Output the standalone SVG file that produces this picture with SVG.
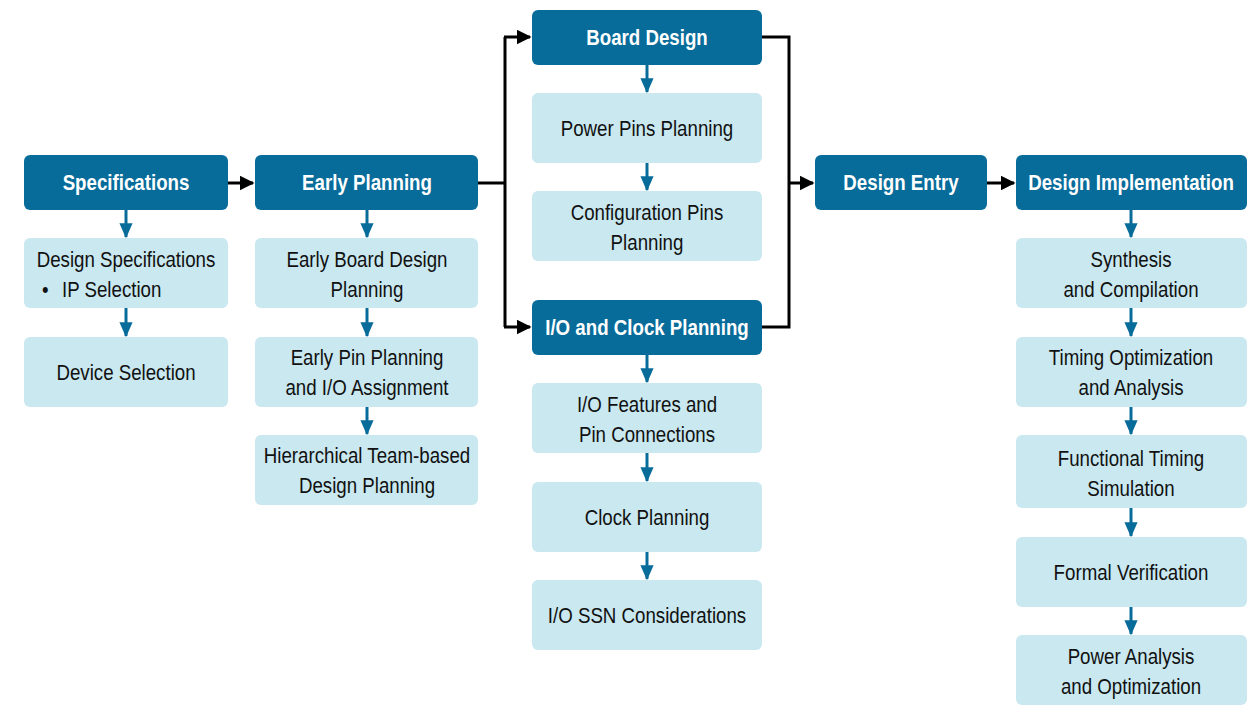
<svg xmlns="http://www.w3.org/2000/svg" width="1252" height="713" viewBox="0 0 1252 713">
<defs>
<style>
.h rect{fill:#086c9a}
.s rect{fill:#c9e8f0}
text{font-family:"Liberation Sans",Arial,sans-serif;font-size:22px;text-anchor:middle}
.h text{fill:#fff;font-weight:bold}
.s text{fill:#111}
.k{stroke:#000;stroke-width:3;fill:none}
.b{stroke:#086c9a;stroke-width:3;fill:none}
</style>
<marker id="ak" markerWidth="5" markerHeight="5" refX="4.5" refY="2.5" orient="auto" markerUnits="strokeWidth" viewBox="0 0 5 5"><path d="M0,0 L5,2.5 L0,5 Z" fill="#000"/></marker>
<marker id="ab" markerWidth="5" markerHeight="4.4" refX="4.6" refY="2.2" orient="auto" markerUnits="strokeWidth" viewBox="0 0 5 4.4"><path d="M0,0 L5,2.2 L0,4.4 Z" fill="#086c9a"/></marker>
</defs>
<g id="connectors">
<path class="k" d="M228,183 H253" marker-end="url(#ak)"/>
<path class="k" d="M478,183 H505 M505,37 V327" />
<path class="k" d="M504,37 H530" marker-end="url(#ak)"/>
<path class="k" d="M504,327 H530" marker-end="url(#ak)"/>
<path class="k" d="M762,37 H789 V327 H762"/>
<path class="k" d="M789,183 H813" marker-end="url(#ak)"/>
<path class="k" d="M987,183 H1014" marker-end="url(#ak)"/>
<path class="b" d="M126,210 V237" marker-end="url(#ab)"/>
<path class="b" d="M126,308 V336" marker-end="url(#ab)"/>
<path class="b" d="M367,210 V237" marker-end="url(#ab)"/>
<path class="b" d="M367,308 V336" marker-end="url(#ab)"/>
<path class="b" d="M367,407 V434" marker-end="url(#ab)"/>
<path class="b" d="M647,65 V92" marker-end="url(#ab)"/>
<path class="b" d="M647,163 V190" marker-end="url(#ab)"/>
<path class="b" d="M647,355 V382" marker-end="url(#ab)"/>
<path class="b" d="M647,453 V481" marker-end="url(#ab)"/>
<path class="b" d="M647,552 V579" marker-end="url(#ab)"/>
<path class="b" d="M1131,210 V237" marker-end="url(#ab)"/>
<path class="b" d="M1131,308 V336" marker-end="url(#ab)"/>
<path class="b" d="M1131,407 V434" marker-end="url(#ab)"/>
<path class="b" d="M1131,508 V536" marker-end="url(#ab)"/>
<path class="b" d="M1131,607 V634" marker-end="url(#ab)"/>
</g>
<g id="specifications" class="h"><rect x="24" y="155" width="204" height="55" rx="6"/><text transform="translate(126,190) scale(0.85,1)">Specifications</text></g>
<g id="design-specifications" class="s"><rect x="24" y="238" width="204" height="70" rx="6"/><text transform="translate(126,267) scale(0.85,1)">Design Specifications</text><text transform="translate(42,296.5) scale(0.85,1)" style="text-anchor:start"><tspan x="0">•</tspan><tspan x="23.5">IP Selection</tspan></text></g>
<g id="device-selection" class="s"><rect x="24" y="337" width="204" height="70" rx="6"/><text transform="translate(126,380) scale(0.85,1)">Device Selection</text></g>
<g id="early-planning" class="h"><rect x="255" y="155" width="223" height="55" rx="6"/><text transform="translate(367,190) scale(0.85,1)">Early Planning</text></g>
<g id="early-board" class="s"><rect x="255" y="238" width="223" height="70" rx="6"/><text transform="translate(367,267) scale(0.85,1)">Early Board Design</text><text transform="translate(367,296.5) scale(0.85,1)">Planning</text></g>
<g id="early-pin" class="s"><rect x="255" y="337" width="223" height="70" rx="6"/><text transform="translate(367,365) scale(0.85,1)">Early Pin Planning</text><text transform="translate(367,394.5) scale(0.85,1)">and I/O Assignment</text></g>
<g id="hierarchical" class="s"><rect x="255" y="435" width="223" height="70" rx="6"/><text transform="translate(367,463) scale(0.85,1)">Hierarchical Team-based</text><text transform="translate(367,492.5) scale(0.85,1)">Design Planning</text></g>
<g id="board-design" class="h"><rect x="532" y="10" width="230" height="55" rx="6"/><text transform="translate(647,45) scale(0.85,1)">Board Design</text></g>
<g id="power-pins" class="s"><rect x="532" y="93" width="230" height="70" rx="6"/><text transform="translate(647,136) scale(0.85,1)">Power Pins Planning</text></g>
<g id="config-pins" class="s"><rect x="532" y="191" width="230" height="70" rx="6"/><text transform="translate(647,220) scale(0.85,1)">Configuration Pins</text><text transform="translate(647,249.5) scale(0.85,1)">Planning</text></g>
<g id="io-clock" class="h"><rect x="532" y="300" width="230" height="55" rx="6"/><text transform="translate(647,335) scale(0.85,1)">I/O and Clock Planning</text></g>
<g id="io-features" class="s"><rect x="532" y="383" width="230" height="70" rx="6"/><text transform="translate(647,412) scale(0.85,1)">I/O Features and</text><text transform="translate(647,441.5) scale(0.85,1)">Pin Connections</text></g>
<g id="clock-planning" class="s"><rect x="532" y="482" width="230" height="70" rx="6"/><text transform="translate(647,525) scale(0.85,1)">Clock Planning</text></g>
<g id="io-ssn" class="s"><rect x="532" y="580" width="230" height="70" rx="6"/><text transform="translate(647,623) scale(0.85,1)">I/O SSN Considerations</text></g>
<g id="design-entry" class="h"><rect x="815" y="155" width="172" height="55" rx="6"/><text transform="translate(901,190) scale(0.85,1)">Design Entry</text></g>
<g id="design-implementation" class="h"><rect x="1016" y="155" width="231" height="55" rx="6"/><text transform="translate(1131,190) scale(0.85,1)">Design Implementation</text></g>
<g id="synthesis" class="s"><rect x="1016" y="238" width="231" height="70" rx="6"/><text transform="translate(1131,267) scale(0.85,1)">Synthesis</text><text transform="translate(1131,296.5) scale(0.85,1)">and Compilation</text></g>
<g id="timing-opt" class="s"><rect x="1016" y="337" width="231" height="70" rx="6"/><text transform="translate(1131,365) scale(0.85,1)">Timing Optimization</text><text transform="translate(1131,394.5) scale(0.85,1)">and Analysis</text></g>
<g id="functional-timing" class="s"><rect x="1016" y="435" width="231" height="73" rx="6"/><text transform="translate(1131,466) scale(0.85,1)">Functional Timing</text><text transform="translate(1131,495.5) scale(0.85,1)">Simulation</text></g>
<g id="formal" class="s"><rect x="1016" y="537" width="231" height="70" rx="6"/><text transform="translate(1131,580) scale(0.85,1)">Formal Verification</text></g>
<g id="power-analysis" class="s"><rect x="1016" y="635" width="231" height="70" rx="6"/><text transform="translate(1131,664) scale(0.85,1)">Power Analysis</text><text transform="translate(1131,693.5) scale(0.85,1)">and Optimization</text></g>
</svg>
